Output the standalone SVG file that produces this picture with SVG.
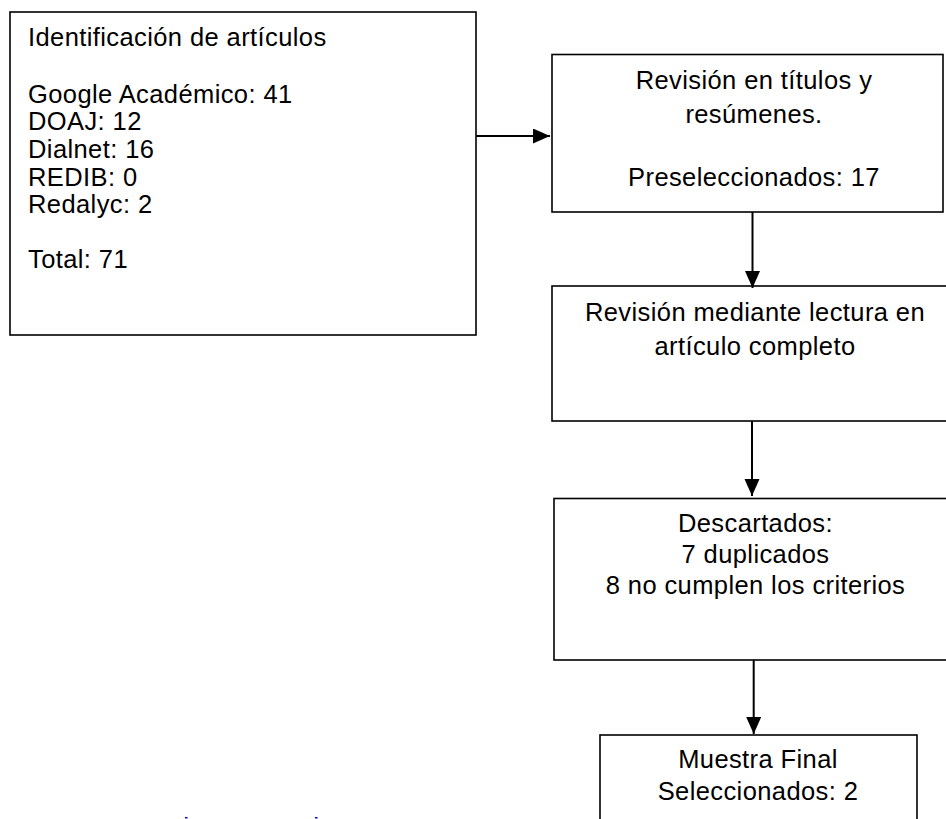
<svg xmlns="http://www.w3.org/2000/svg" width="946" height="819" viewBox="0 0 946 819">
<defs>
<style>
.box{fill:#fff;stroke:#000;stroke-width:1.6}
.t{font-family:"Liberation Sans",Arial,sans-serif;font-size:25.5px;letter-spacing:0.4px;fill:#000}
.c{text-anchor:middle}
.edge{stroke:#000;stroke-width:2;fill:none}
</style>
<marker id="ah" markerUnits="userSpaceOnUse" markerWidth="17" markerHeight="16" refX="17" refY="7.5" orient="auto">
<path d="M0,0 L17,7.5 L0,15 z" fill="#000"/>
</marker>
</defs>
<rect width="946" height="819" fill="#fff"/>
<g id="n1">
<rect class="box" x="10" y="12" width="466" height="323"/>
<text class="t" x="28" y="45.7">Identificación de artículos</text>
<text class="t" x="28" y="102.7">Google Académico: 41</text>
<text class="t" x="28" y="130">DOAJ: 12</text>
<text class="t" x="28" y="157.7">Dialnet: 16</text>
<text class="t" x="28" y="185.7">REDIB: 0</text>
<text class="t" x="28" y="212.7">Redalyc: 2</text>
<text class="t" x="28" y="268.3">Total: 71</text>
</g>
<g id="n2">
<rect class="box" x="552" y="54.5" width="391" height="157.5"/>
<text class="t c" x="754" y="89">Revisión en títulos y</text>
<text class="t c" x="754" y="123.3">resúmenes.</text>
<text class="t c" x="754" y="186">Preseleccionados: 17</text>
</g>
<g id="n3">
<rect class="box" x="552" y="286" width="420" height="135"/>
<text class="t c" x="755" y="320.5">Revisión mediante lectura en</text>
<text class="t c" x="755" y="355">artículo completo</text>
</g>
<g id="n4">
<rect class="box" x="554" y="498.5" width="420" height="161.5"/>
<text class="t c" x="755.5" y="531.7">Descartados:</text>
<text class="t c" x="755.5" y="563">7 duplicados</text>
<text class="t c" x="755.5" y="594">8 no cumplen los criterios</text>
</g>
<g id="n5">
<rect class="box" x="600" y="735" width="317" height="120"/>
<text class="t c" x="758" y="768.3">Muestra Final</text>
<text class="t c" x="758" y="800">Seleccionados: 2</text>
</g>
<g id="connectors">
<line class="edge" x1="476" y1="136" x2="550" y2="136" marker-end="url(#ah)"/>
<line class="edge" x1="752.5" y1="212" x2="752.5" y2="288" marker-end="url(#ah)"/>
<line class="edge" x1="752" y1="421" x2="752" y2="496" marker-end="url(#ah)"/>
<line class="edge" x1="753.7" y1="660" x2="753.7" y2="734" marker-end="url(#ah)"/>
</g>
<g id="marks" fill="#0000ff">
<rect x="185" y="817" width="2.5" height="1.5"/>
<rect x="315" y="817" width="2.5" height="1.5"/>
</g>
</svg>
